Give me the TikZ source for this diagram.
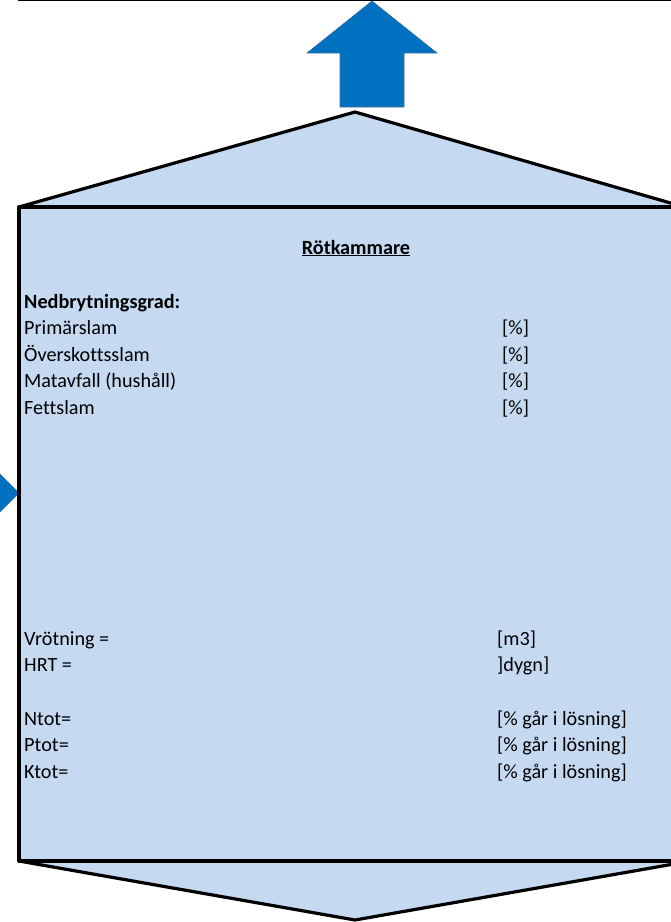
\documentclass[tikz,border=0pt]{standalone}
\usepackage{fontspec}
\setmainfont[Ligatures=NoCommon]{Carlito}
\definecolor{tankfill}{HTML}{C5D9F1}
\definecolor{arrowblue}{HTML}{0070C0}
\definecolor{arrowedge}{HTML}{41719C}
\begin{document}
\begin{tikzpicture}[x=1pt,y=-1pt,
  lbl/.style={anchor=base west,inner sep=0pt,font=\fontsize{20.2}{24}\selectfont},
  outline/.style={draw=black,line width=3.2pt,line join=round,fill=tankfill},
  bluearrow/.style={fill=arrowblue,draw=arrowedge,line width=0.6pt}]
\useasboundingbox (0,0) rectangle (671,922);
\clip (0,0) rectangle (671,922);
\fill[white] (0,0) rectangle (671,922);
% top line
\draw[line width=1.2pt] (18,0.6) -- (690,0.6);
% up arrow
\draw[bluearrow] (372,1) -- (437,53) -- (404,53) -- (404,107) -- (340,107) -- (340,53) -- (307,53) -- cycle;
% left arrow tip
\draw[bluearrow] (-5,469) -- (19,493) -- (-5,517) -- cycle;
% roof
\draw[outline] (19,207) -- (355,112) -- (700,211.5) -- (700,207) -- cycle;
% bottom cone
\draw[outline] (19,861) -- (355,920) -- (700,859.4) -- cycle;
% body
\draw[outline] (700,207) -- (19,207) -- (19,861) -- (700,861);
\fill[tankfill] (20.6,208.6) rectangle (700,859.4);
% texts
\node[lbl,anchor=base] (title) at (356,254) {\textbf{\underline{Rötkammare}}};
\node[lbl] (ned) at (24,308) {\textbf{Nedbrytningsgrad:}};
\node[lbl] (prim) at (24,334.5) {Primärslam};
\node[lbl] (over) at (24,361) {Överskottsslam};
\node[lbl] (mat) at (24,387.5) {Matavfall (hushåll)};
\node[lbl] (fett) at (24,414) {Fettslam};
\node[lbl] (u1) at (502,334.5) {[\%]};
\node[lbl] (u2) at (502,361) {[\%]};
\node[lbl] (u3) at (502,387.5) {[\%]};
\node[lbl] (u4) at (502,414) {[\%]};
\node[lbl] (vrot) at (24,645) {Vrötning =};
\node[lbl] (hrt) at (24,671.5) {HRT =};
\node[lbl] (ntot) at (24,725) {Ntot=};
\node[lbl] (ptot) at (24,751.5) {Ptot=};
\node[lbl] (ktot) at (24,778) {Ktot=};
\node[lbl] (m3) at (497,645) {[m3]};
\node[lbl] (dygn) at (497,671.5) {]dygn]};
\node[lbl] (nl) at (497,725) {[\% går i lösning]};
\node[lbl] (pl) at (497,751.5) {[\% går i lösning]};
\node[lbl] (kl) at (497,778) {[\% går i lösning]};
\end{tikzpicture}
\end{document}
